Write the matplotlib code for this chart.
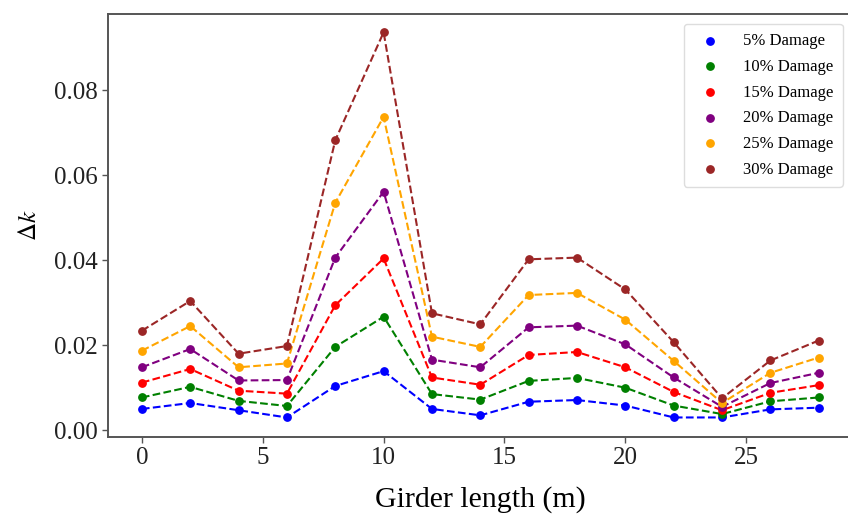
import matplotlib
matplotlib.use("Agg")
import matplotlib.pyplot as plt

plt.rcParams['font.family'] = ['Liberation Serif', 'DejaVu Serif']
plt.rcParams['mathtext.fontset'] = 'stix'

# girder positions (m)
positions = [0, 2, 4, 6, 8, 10, 12, 14, 16, 18, 20, 22, 24, 26, 28]

# delta k for each damage level
dmg_5 = [0.0050, 0.0064, 0.0047, 0.0030, 0.0104, 0.0139, 0.0050, 0.0035,
         0.0067, 0.0071, 0.0058, 0.0030, 0.0030, 0.0049, 0.0053]
dmg_10 = [0.0077, 0.0102, 0.0069, 0.0057, 0.0196, 0.0267, 0.0085, 0.0072,
          0.0116, 0.0123, 0.0100, 0.0058, 0.0038, 0.0068, 0.0077]
dmg_15 = [0.0112, 0.0144, 0.0093, 0.0086, 0.0294, 0.0404, 0.0124, 0.0107,
          0.0177, 0.0184, 0.0148, 0.0090, 0.0047, 0.0088, 0.0106]
dmg_20 = [0.0148, 0.0191, 0.0117, 0.0118, 0.0406, 0.0561, 0.0166, 0.0148,
          0.0242, 0.0246, 0.0202, 0.0124, 0.0055, 0.0111, 0.0135]
dmg_25 = [0.0187, 0.0245, 0.0148, 0.0157, 0.0535, 0.0737, 0.0220, 0.0196,
          0.0318, 0.0323, 0.0260, 0.0163, 0.0064, 0.0135, 0.0171]
dmg_30 = [0.0234, 0.0304, 0.0180, 0.0198, 0.0682, 0.0936, 0.0275, 0.0249,
          0.0402, 0.0406, 0.0331, 0.0207, 0.0075, 0.0164, 0.0211]

series = [dmg_5, dmg_10, dmg_15, dmg_20, dmg_25, dmg_30]
labels = ['5% Damage', '10% Damage', '15% Damage', '20% Damage',
          '25% Damage', '30% Damage']
colors = ['blue', 'green', 'red', 'purple', 'orange', '#9b2626']

fig = plt.figure(figsize=(8.48, 5.21), dpi=100)
ax = fig.add_axes([0.1274, 0.1612, 0.878, 0.8119])

for vals, lab, col in zip(series, labels, colors):
    ax.plot(positions, vals, linestyle='--', color=col, linewidth=1.5)
    ax.scatter(positions, vals, color=col, s=28, label=lab, zorder=3)

ax.set_xlim(-1.4, 29.4)
ax.set_ylim(-0.0016, 0.0979)
ax.set_xticks([0, 5, 10, 15, 20, 25])
ax.set_yticks([0.00, 0.02, 0.04, 0.06, 0.08])

ax.set_xlabel('Girder length (m)', fontsize=21.5, labelpad=12)
ax.set_ylabel(r'$\Delta k$', fontsize=18, labelpad=9)
ax.tick_params(labelsize=18, length=4, width=1, colors='#555555',
               labelcolor='#222222')
for sp in ax.spines.values():
    sp.set_color('#555555')
    sp.set_linewidth(1.4)

ax.legend(loc='upper right', fontsize=12, labelspacing=0.58,
          handletextpad=1.0, borderpad=0.55, framealpha=1,
          edgecolor='#dddddd', borderaxespad=0.6)

fig.savefig('out.png', dpi=100)
